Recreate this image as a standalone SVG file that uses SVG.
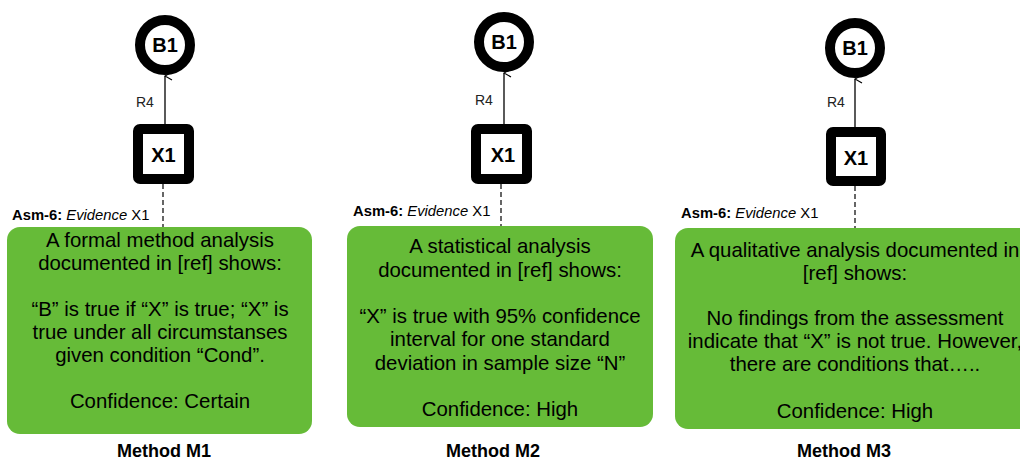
<svg xmlns="http://www.w3.org/2000/svg" width="1020" height="459" viewBox="0 0 1020 459">
<defs>
<marker id="open" viewBox="0 0 10 10" refX="5" refY="1" markerWidth="10" markerHeight="10" markerUnits="userSpaceOnUse" orient="auto-start-reverse">
<path d="M1,8 L5,1 L9,8" fill="none" stroke="#000" stroke-width="1.2"/>
</marker>
<style>
.goal{fill:#fff;stroke:#000;stroke-width:10}
.sol{fill:#fff;stroke:#000;stroke-width:10;stroke-linejoin:round}
.nid{font-family:"Liberation Sans",Arial,sans-serif;font-weight:bold;font-size:20px;text-anchor:middle;fill:#000}
.lbl{font-family:"Liberation Sans",Arial,sans-serif;font-size:14px;fill:#222}
.asm{font-family:"Liberation Sans",Arial,sans-serif;font-size:14.8px;fill:#000}
.box{fill:#66BB38}
.body{font-family:"Liberation Sans",Arial,sans-serif;font-size:20.4px;text-anchor:middle;fill:#000}
.cap{font-family:"Liberation Sans",Arial,sans-serif;font-weight:bold;font-size:18px;text-anchor:middle;fill:#000}
.arr{stroke:#000;stroke-width:1.3;fill:none}
.dash{stroke:#000;stroke-width:1.2;stroke-dasharray:5 3;fill:none}
</style>
</defs>
<g id="connectors">
<line class="arr" x1="165" y1="124" x2="165" y2="76" marker-end="url(#open)"/>
<line class="arr" x1="504" y1="124" x2="504" y2="73" marker-end="url(#open)"/>
<line class="arr" x1="855" y1="127" x2="855" y2="79" marker-end="url(#open)"/>
<line class="dash" x1="163" y1="184" x2="163" y2="227"/>
<line class="dash" x1="501" y1="184" x2="501" y2="226"/>
<line class="dash" x1="855" y1="186" x2="855" y2="228"/>
<text class="lbl" x="136" y="107">R4</text>
<text class="lbl" x="475" y="105">R4</text>
<text class="lbl" x="827" y="107">R4</text>
</g>
<g id="B1-m1"><circle class="goal" cx="165" cy="45" r="25"/><text class="nid" x="165" y="52">B1</text></g>
<g id="B1-m2"><circle class="goal" cx="504" cy="42" r="25"/><text class="nid" x="504" y="49">B1</text></g>
<g id="B1-m3"><circle class="goal" cx="855" cy="48" r="25"/><text class="nid" x="855" y="55">B1</text></g>
<g id="X1-m1"><rect class="sol" x="138" y="129" width="51" height="50" rx="2"/><text class="nid" x="163.5" y="162">X1</text></g>
<g id="X1-m2"><rect class="sol" x="476" y="129" width="51" height="50" rx="2"/><text class="nid" x="503" y="162">X1</text></g>
<g id="X1-m3"><rect class="sol" x="831" y="132" width="50" height="49" rx="2"/><text class="nid" x="856" y="165">X1</text></g>
<g id="E1">
<text class="asm" x="12" y="220"><tspan font-weight="bold">Asm-6:</tspan> <tspan font-style="italic">Evidence</tspan> X1</text>
<rect class="box" x="7" y="227" width="305" height="207" rx="13"/>
<text class="body" x="160" y="247">A formal method analysis</text>
<text class="body" x="160" y="270">documented in [ref] shows:</text>
<text class="body" x="160" y="316">“B” is true if “X” is true; “X” is</text>
<text class="body" x="160" y="339">true under all circumstanses</text>
<text class="body" x="160" y="362">given condition “Cond”.</text>
<text class="body" x="160" y="408">Confidence: Certain</text>
<text class="cap" x="164" y="457">Method M1</text>
</g>
<g id="E2">
<text class="asm" x="353" y="216"><tspan font-weight="bold">Asm-6:</tspan> <tspan font-style="italic">Evidence</tspan> X1</text>
<rect class="box" x="347" y="226" width="306" height="201" rx="13"/>
<text class="body" x="500" y="253">A statistical analysis</text>
<text class="body" x="500" y="276.5">documented in [ref]  shows:</text>
<text class="body" x="500" y="323">“X” is true with 95% confidence</text>
<text class="body" x="500" y="346">interval for one standard</text>
<text class="body" x="500" y="369.5">deviation in sample size “N”</text>
<text class="body" x="500" y="416">Confidence: High</text>
<text class="cap" x="493" y="457">Method M2</text>
</g>
<g id="E3">
<text class="asm" x="681" y="218"><tspan font-weight="bold">Asm-6:</tspan> <tspan font-style="italic">Evidence</tspan> X1</text>
<rect class="box" x="675" y="228" width="360" height="201" rx="13"/>
<text class="body" x="855" y="257">A qualitative analysis documented in</text>
<text class="body" x="855" y="280">[ref] shows:</text>
<text class="body" x="855" y="325">No findings from the assessment</text>
<text class="body" x="855" y="348">indicate that “X” is not true. However,</text>
<text class="body" x="855" y="371">there are conditions that…..</text>
<text class="body" x="855" y="418">Confidence: High</text>
<text class="cap" x="844" y="457">Method M3</text>
</g>
</svg>
